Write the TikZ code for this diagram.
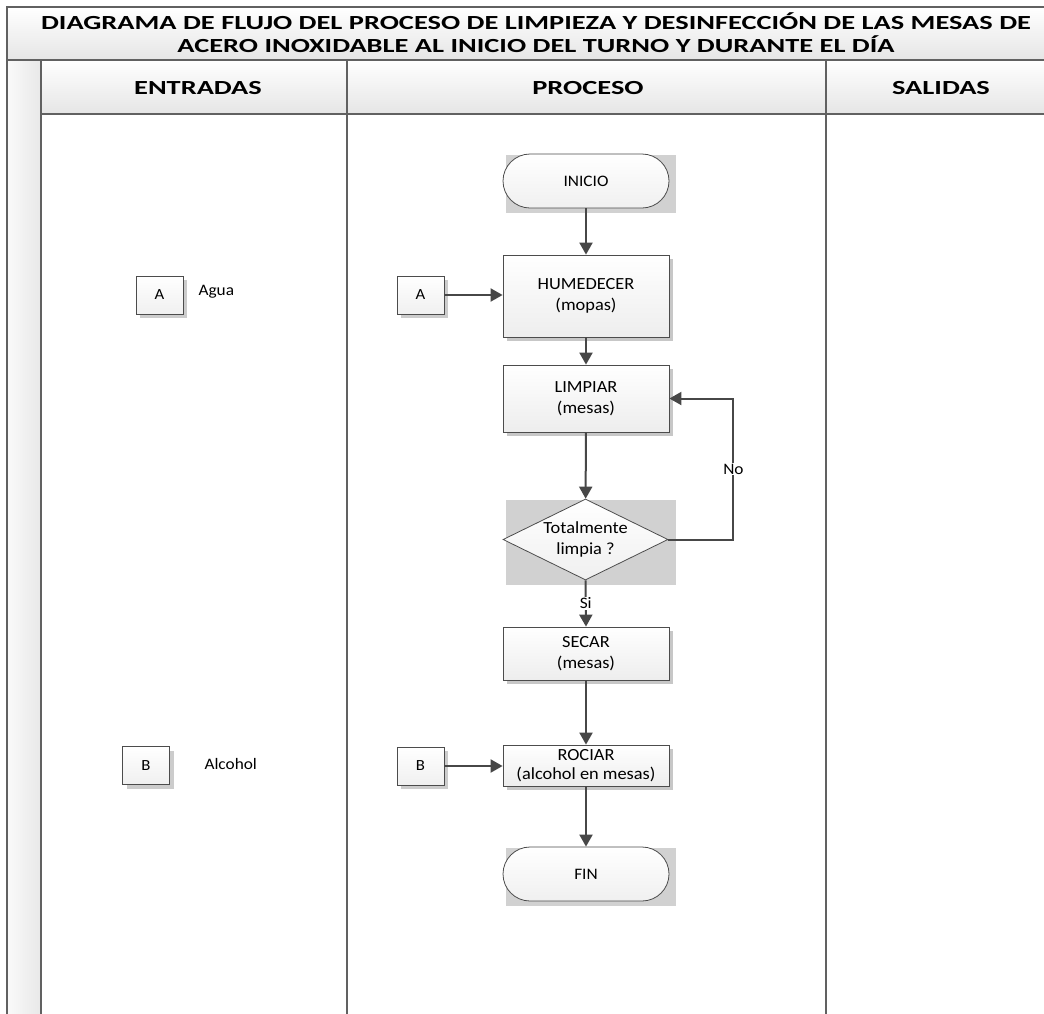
\documentclass[tikz,border=0pt]{standalone}
\usepackage{fontspec}
\setmainfont{Carlito}
\newfontfamily\titfont[FakeStretch=1.42]{Carlito}
\newfontfamily\txtfont[FakeStretch=1.08]{Carlito}
\usetikzlibrary{arrows.meta,calc,shapes.geometric,shadows,backgrounds}

\tikzset{
  marco/.style={draw=black!62,line width=1.4pt},
  encabezado/.style={font=\titfont\bfseries\fontsize{20}{23}\selectfont,align=center},
  paso/.style={draw=black!70,line width=0.8pt,top color=white,bottom color=black!7,
    drop shadow={shadow xshift=3.5pt,shadow yshift=-3.5pt,fill=black!22,opacity=1},
    minimum width=166pt,inner sep=0pt,align=center,
    font=\txtfont\fontsize{17}{21}\selectfont},
  terminal/.style={draw=black!70,line width=0.8pt,top color=white,bottom color=black!6,
    rounded corners=27pt,minimum width=166pt,minimum height=54pt,
    font=\txtfont\fontsize{16}{20}\selectfont},
  decision/.style={diamond,aspect=2.04,draw=black!70,line width=0.8pt,top color=white,bottom color=black!6,
    minimum width=165pt,minimum height=81pt,inner sep=0pt,align=center,
    font=\txtfont\fontsize{17}{21}\selectfont},
  conector/.style={draw=black!70,line width=0.8pt,top color=white,bottom color=black!6,
    drop shadow={shadow xshift=4pt,shadow yshift=-4pt,fill=black!20,opacity=1},
    minimum width=47pt,minimum height=38pt,font=\txtfont\fontsize{15.5}{18}\selectfont},
  rotulo/.style={anchor=west,font=\txtfont\fontsize{16}{18}\selectfont},
  flecha/.style={draw=black!72,line width=2pt,->},
  etiq/.style={fill=white,inner sep=1pt,font=\txtfont\fontsize{16}{18}\selectfont}
}
\newcommand{\fondogris}[2]{%
  \fill[black!18] ($(#1.west |- #1.north)+(3,1)$) rectangle ($(#1.east |- #1.south)+(#2,5)$);
}

\begin{document}
\begin{tikzpicture}[x=1pt,y=-1pt,>={Triangle[length=12pt,width=13pt]}]
  \useasboundingbox (0,0) rectangle (1044,1013);
  \clip (0,0) rectangle (1044,1013);

  % marco de carriles
  \shade[top color=white,bottom color=black!10] (7,7) rectangle (1080,60);
  \shade[top color=white,bottom color=black!10] (41,60) rectangle (1080,114);
  \shade[left color=black!2,right color=black!9] (7,60) rectangle (41,1030);
  \draw[marco] (1080,7) -- (7,7) -- (7,1030);
  \draw[marco] (7,60) -- (1080,60);
  \draw[marco] (41,114) -- (1080,114);
  \draw[marco] (41,60) -- (41,1030);
  \draw[marco] (347,60) -- (347,1030);
  \draw[marco] (826,60) -- (826,1030);

  \node[encabezado] (titulo) at (536,33)
    {DIAGRAMA DE FLUJO DEL PROCESO DE LIMPIEZA Y DESINFECCIÓN DE LAS MESAS DE\\
     ACERO INOXIDABLE AL INICIO DEL TURNO Y DURANTE EL DÍA};
  \node[encabezado] (entradas) at (198,88) {ENTRADAS};
  \node[encabezado] (proceso) at (588,88) {PROCESO};
  \node[encabezado] (salidas) at (941,88) {SALIDAS};

  % entradas
  \node[conector] (entA) at (159.5,295) {A};
  \node[rotulo] (agua) at (195,292) {Agua};
  \node[conector] (entB) at (146,765.5) {B};
  \node[rotulo] (alcohol) at (201,764) {Alcohol};

  % proceso
  \node[terminal] (ini) at (586,181) {INICIO};
  \node[paso,minimum height=82pt] (hum) at (586,296) {HUMEDECER\\(mopas)};
  \node[paso,minimum height=67pt] (lim) at (586,398.5) {LIMPIAR\\(mesas)};
  \node[decision] (dec) at (585.5,539.5) {Totalmente\\limpia ?};
  \node[paso,minimum height=53pt] (sec) at (586,653.5) {SECAR\\(mesas)};
  \node[paso,minimum height=41pt,font=\txtfont\fontsize{17}{19}\selectfont] (roc) at (586,765.5)
    {ROCIAR\\(alcohol en mesas)};
  \node[terminal] (fin) at (586,874) {FIN};
  \node[conector] (conA) at (420.5,295) {A};
  \node[conector] (conB) at (420.5,766) {B};

  \begin{scope}[on background layer]
    \fondogris{ini}{7}
    \fondogris{dec}{8}
    \fondogris{fin}{7}
  \end{scope}

  \coordinate (vuelta) at ($(lim.east)+(64,0)$);
  \draw[flecha] (ini) -- (hum);
  \draw[flecha] (hum) -- (lim);
  \draw[flecha] (lim) -- (dec);
  \draw[flecha] (dec.south) -- node[etiq] {Si} (sec.north);
  \draw[flecha] (sec) -- (roc);
  \draw[flecha] (roc) -- (fin);
  \draw[flecha] (conA) -- (conA -| hum.west);
  \draw[flecha] (conB) -- (conB -| roc.west);
  \draw[flecha] (dec.east) -| (vuelta) -- (lim.east);
  \node[etiq] (no) at ($(vuelta)!0.5!(vuelta |- dec.east)$) {No};
\end{tikzpicture}
\end{document}
